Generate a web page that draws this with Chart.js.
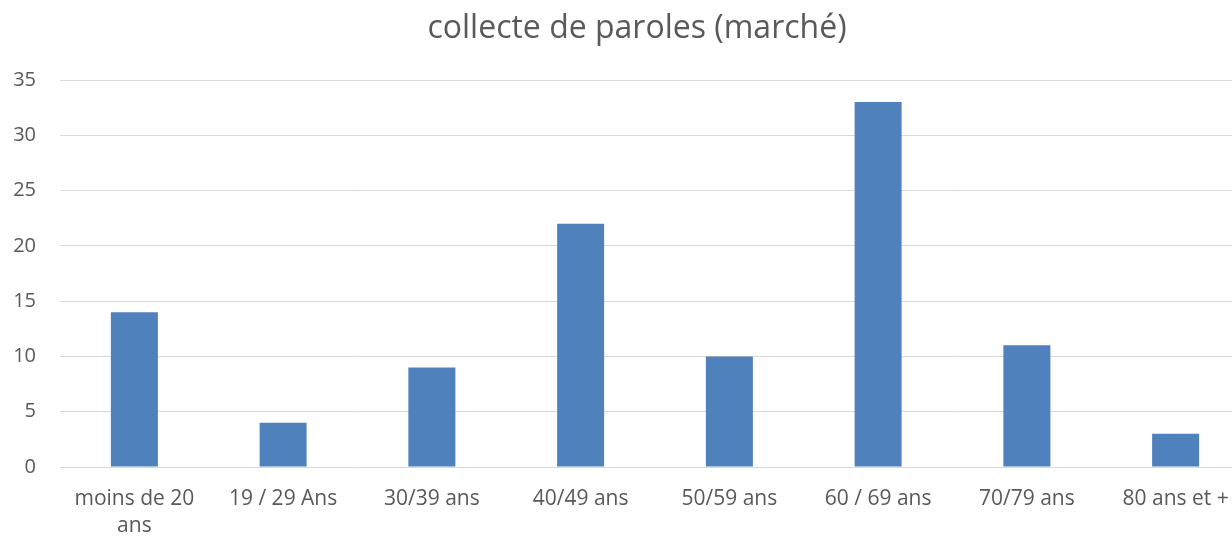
<!DOCTYPE html>
<html>
<head>
<meta charset="utf-8">
<script src="https://cdn.jsdelivr.net/npm/chart.js@4/dist/chart.umd.min.js"></script>
<style>
  html, body { margin: 0; padding: 0; background: #fff; overflow: hidden; }
  #wrap { width: 1250px; height: 536px; position: relative; }
</style>
</head>
<body>
<div id="wrap"><canvas id="c"></canvas></div>
<script>
const categories = [
  ['moins de 20', 'ans'],
  '19 / 29 Ans',
  '30/39 ans',
  '40/49 ans',
  '50/59 ans',
  '60 / 69 ans',
  '70/79 ans',
  '80 ans et +'
];
const values = [14, 4, 9, 22, 10, 33, 11, 3];
const yTicks = [0, 5, 10, 15, 20, 25, 30, 35];
const titleText = 'collecte de paroles (marché)';

const FONT = '"Open Sans", "Liberation Sans", sans-serif';
const TXT = '#595959';

const shiftTitle = {
  id: 'shiftTitle',
  afterLayout(chart) {
    const t = chart.titleBlock;
    if (t) { t.left += 12; t.right += 12; }
  }
};

new Chart(document.getElementById('c'), {
  type: 'bar',
  data: {
    labels: categories,
    datasets: [{
      data: values,
      backgroundColor: '#4f81bd',
      borderWidth: 0,
      categoryPercentage: 1,
      barPercentage: 0.316
    }]
  },
  plugins: [shiftTitle],
  options: {
    responsive: true,
    maintainAspectRatio: false,
    animation: false,
    layout: { padding: { left: 0, right: 0, top: 0, bottom: 0 } },
    plugins: {
      legend: { display: false },
      tooltip: { enabled: false },
      title: {
        display: true,
        text: titleText,
        color: TXT,
        font: { family: FONT, size: 32, weight: 'normal', lineHeight: 1.2 },
        padding: { top: 10, bottom: 31.6 }
      }
    },
    scales: {
      x: {
        grid: { display: false, drawTicks: false },
        border: { display: true, color: '#d9d9d9', width: 1 },
        ticks: {
          color: TXT,
          font: { family: FONT, size: 21, lineHeight: 1.3 },
          padding: 18,
          maxRotation: 0,
          autoSkip: false
        },
        afterFit: s => { s.height = 69; }
      },
      y: {
        min: 0,
        max: 35,
        afterBuildTicks: s => { s.ticks = yTicks.map(v => ({ value: v })); },
        grid: { color: '#d9d9d9', lineWidth: 1, drawTicks: false },
        border: { display: false },
        ticks: {
          color: TXT,
          font: { family: FONT, size: 20 },
          padding: 24
        },
        afterFit: s => { s.width = 60; }
      }
    }
  }
});
</script>
</body>
</html>
